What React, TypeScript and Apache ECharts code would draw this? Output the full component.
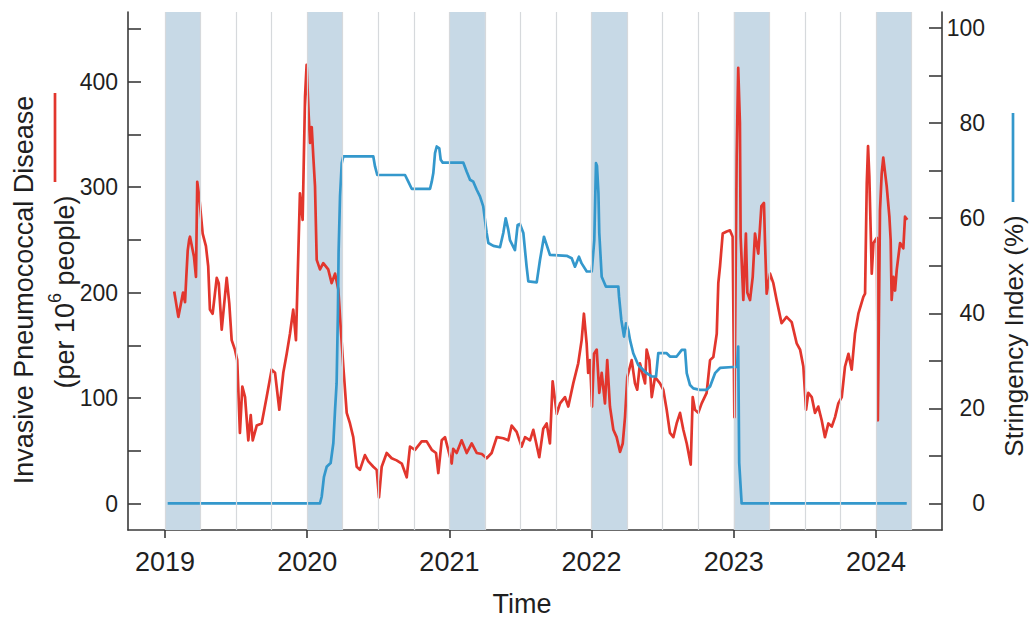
import React, { useEffect, useRef } from 'react';
import * as echarts from 'echarts';

// ---------- data ----------
const yearTicks = [2019, 2020, 2021, 2022, 2023, 2024];
const leftTicks = [0, 50, 100, 150, 200, 250, 300, 350, 400, 450];
const leftLabels = [0, 100, 200, 300, 400];
const rightTicks = [0, 10, 20, 30, 40, 50, 60, 70, 80, 90, 100];
const rightLabels = [0, 20, 40, 60, 80, 100];

// Jan–Mar shaded periods
const bandStart = [2019, 2020, 2021, 2022, 2023, 2024];
const bandEnd = [2019.25, 2020.25, 2021.25, 2022.25, 2023.25, 2024.25];

// quarterly vertical grid lines
const quarterLines = [
  2019, 2019.25, 2019.5, 2019.75, 2020, 2020.25, 2020.5, 2020.75,
  2021, 2021.25, 2021.5, 2021.75, 2022, 2022.25, 2022.5, 2022.75,
  2023, 2023.25, 2023.5, 2023.75, 2024, 2024.25,
];

// Invasive Pneumococcal Disease (per 10^6 people)
const ipdTime = [
  2019.065, 2019.094, 2019.117, 2019.127, 2019.141, 2019.150, 2019.160, 2019.170, 2019.176, 2019.204,
  2019.218, 2019.227, 2019.241, 2019.265, 2019.288, 2019.304, 2019.316, 2019.335, 2019.364, 2019.378,
  2019.399, 2019.434, 2019.452, 2019.469, 2019.492, 2019.508, 2019.527, 2019.544, 2019.563, 2019.586,
  2019.603, 2019.617, 2019.645, 2019.680, 2019.715, 2019.750, 2019.774, 2019.804, 2019.832, 2019.856,
  2019.879, 2019.902, 2019.921, 2019.930, 2019.949, 2019.968, 2019.985, 2019.996, 2020.011, 2020.020,
  2020.032, 2020.043, 2020.055, 2020.067, 2020.090, 2020.113, 2020.148, 2020.172, 2020.196, 2020.219,
  2020.231, 2020.254, 2020.278, 2020.301, 2020.324, 2020.348, 2020.371, 2020.406, 2020.430, 2020.465,
  2020.489, 2020.505, 2020.524, 2020.559, 2020.594, 2020.629, 2020.665, 2020.700, 2020.723, 2020.758,
  2020.805, 2020.840, 2020.876, 2020.906, 2020.922, 2020.946, 2020.969, 2020.992, 2021.016, 2021.027,
  2021.051, 2021.086, 2021.122, 2021.157, 2021.192, 2021.228, 2021.262, 2021.297, 2021.333, 2021.379,
  2021.414, 2021.438, 2021.473, 2021.508, 2021.532, 2021.567, 2021.590, 2021.632, 2021.660, 2021.684,
  2021.707, 2021.726, 2021.755, 2021.778, 2021.813, 2021.836, 2021.871, 2021.906, 2021.930, 2021.946,
  2021.965, 2021.976, 2021.989, 2022.003, 2022.017, 2022.036, 2022.054, 2022.071, 2022.094, 2022.110,
  2022.129, 2022.153, 2022.176, 2022.200, 2022.219, 2022.235, 2022.251, 2022.282, 2022.305, 2022.321,
  2022.340, 2022.376, 2022.387, 2022.406, 2022.423, 2022.446, 2022.481, 2022.504, 2022.528, 2022.551,
  2022.575, 2022.598, 2022.622, 2022.645, 2022.669, 2022.697, 2022.711, 2022.727, 2022.750, 2022.774,
  2022.809, 2022.833, 2022.856, 2022.880, 2022.891, 2022.903, 2022.922, 2022.950, 2022.973, 2022.992,
  2023.004, 2023.020, 2023.031, 2023.043, 2023.048, 2023.067, 2023.085, 2023.095, 2023.114, 2023.133,
  2023.149, 2023.172, 2023.194, 2023.212, 2023.219, 2023.231, 2023.255, 2023.278, 2023.301, 2023.336,
  2023.371, 2023.407, 2023.442, 2023.466, 2023.489, 2023.508, 2023.524, 2023.548, 2023.571, 2023.594,
  2023.618, 2023.641, 2023.665, 2023.689, 2023.712, 2023.735, 2023.759, 2023.782, 2023.806, 2023.829,
  2023.852, 2023.876, 2023.911, 2023.923, 2023.935, 2023.944, 2023.953, 2023.963, 2023.970, 2023.982,
  2024.006, 2024.013, 2024.028, 2024.040, 2024.051, 2024.075, 2024.094, 2024.103, 2024.110, 2024.122,
  2024.134, 2024.146, 2024.169, 2024.192, 2024.204, 2024.220,
];
const ipdValue = [
  201, 177, 193, 200, 191, 215, 240, 250, 253, 234,
  215, 305, 291, 256, 244, 225, 184, 180, 214, 209,
  165, 214, 190, 155, 146, 136, 67, 111, 101, 60,
  84, 60, 74, 76, 101, 127, 124, 89, 124, 142,
  161, 184, 155, 199, 294, 269, 386, 416, 367, 342,
  357, 329, 301, 231, 222, 228, 222, 209, 218, 203,
  177, 130, 86, 76, 63, 35, 32, 46, 40, 35,
  32, 6, 35, 48, 43, 41, 38, 25, 54, 51,
  59, 59, 51, 48, 29, 60, 63, 51, 38, 52,
  48, 60, 48, 57, 48, 47, 43, 48, 63, 62,
  60, 74, 68, 54, 63, 60, 70, 44, 71, 76,
  57, 116, 85, 95, 101, 92, 114, 133, 155, 180,
  152, 124, 136, 92, 142, 146, 105, 124, 95, 136,
  92, 70, 63, 49, 57, 82, 120, 136, 114, 108,
  133, 114, 146, 136, 101, 120, 114, 108, 89, 67,
  63, 76, 86, 70, 57, 37, 101, 89, 86, 95,
  105, 136, 139, 161, 209, 225, 256, 258, 259, 253,
  82, 329, 413, 361, 253, 193, 256, 200, 193, 215,
  256, 237, 282, 285, 250, 199, 218, 209, 193, 171,
  177, 172, 152, 146, 130, 89, 105, 101, 86, 92,
  79, 63, 76, 73, 82, 95, 101, 130, 142, 127,
  161, 180, 196, 199, 304, 339, 310, 256, 218, 247,
  252, 79, 278, 313, 328, 301, 272, 250, 193, 215,
  202, 222, 247, 242, 272, 269,
];

// Stringency Index (%)
const siTime = [
  2019.019, 2020.090, 2020.102, 2020.118, 2020.137, 2020.165, 2020.184, 2020.196, 2020.207, 2020.216,
  2020.221, 2020.231, 2020.243, 2020.254, 2020.465, 2020.477, 2020.493, 2020.688, 2020.711, 2020.735,
  2020.864, 2020.876, 2020.887, 2020.899, 2020.911, 2020.929, 2020.939, 2020.953, 2021.098, 2021.122,
  2021.145, 2021.168, 2021.192, 2021.215, 2021.238, 2021.250, 2021.262, 2021.274, 2021.309, 2021.356,
  2021.379, 2021.396, 2021.414, 2021.426, 2021.461, 2021.480, 2021.496, 2021.520, 2021.543, 2021.555,
  2021.614, 2021.637, 2021.665, 2021.684, 2021.707, 2021.825, 2021.860, 2021.883, 2021.911, 2021.930,
  2021.966, 2022.001, 2022.019, 2022.031, 2022.038, 2022.048, 2022.054, 2022.071, 2022.101, 2022.188,
  2022.193, 2022.209, 2022.228, 2022.242, 2022.258, 2022.270, 2022.293, 2022.328, 2022.387, 2022.423,
  2022.453, 2022.469, 2022.528, 2022.551, 2022.598, 2022.634, 2022.657, 2022.669, 2022.692, 2022.715,
  2022.762, 2022.809, 2022.833, 2022.868, 2022.903, 2022.994, 2023.023, 2023.031, 2023.038, 2023.055,
  2024.216,
];
const siValue = [
  0, 0, 1.4, 5.6, 7.7, 8.5, 12.7, 19.7, 25.3, 40,
  53, 64.6, 71.6, 73, 73, 70.9, 69.1, 69.1, 67.7, 66.2,
  66.2, 67.7, 69.5, 73.7, 75.1, 74.7, 72.3, 71.7, 71.7, 69.8,
  68.1, 67.7, 66, 64.6, 62.5, 59.7, 56.9, 54.8, 54.2, 53.9,
  56.9, 60, 57.6, 55.4, 53.3, 58.6, 58.8, 56.9, 49.8, 46.7,
  46.5, 51.2, 56.1, 54.4, 52.3, 52.1, 51.6, 49.8, 51.9, 50.5,
  48.8, 48.8, 55.4, 71.6, 71, 65.3, 56.9, 47.7, 45.6, 45.6,
  43.5, 38.6, 35.1, 37.9, 36.5, 34.4, 31.6, 29.1, 27.4, 26.7,
  26.7, 31.6, 31.6, 30.9, 30.9, 32.3, 32.3, 27.4, 24.9, 24.2,
  23.9, 23.9, 24.6, 27.4, 28.5, 28.7, 28.7, 33, 8.5, 0,
  0,
];

const RED = '#e2362d';
const BLUE = '#3498cc';
const AXIS = '#3a3a3a';
const TXT = '#1f1f1f';
const FONT = '"Liberation Sans", Arial, sans-serif';

export default function App() {
  const ref = useRef<HTMLDivElement>(null);

  useEffect(() => {
    if (!ref.current) return;
    const chart = echarts.init(ref.current, undefined, { renderer: 'svg' });

    const ipdData = ipdTime.map((t, i) => [t, ipdValue[i]]);
    const siData = siTime.map((t, i) => [t, siValue[i]]);

    const option: any = {
      animation: false,
      backgroundColor: '#ffffff',
      grid: { left: 128, right: 88, top: 12, bottom: 88, containLabel: false },
      xAxis: {
        type: 'value',
        min: 2018.74,
        max: 2024.464,
        axisLine: { show: true, onZero: false, lineStyle: { color: AXIS, width: 1.6 } },
        axisTick: { show: true, customValues: yearTicks, length: 8, inside: false, lineStyle: { color: AXIS, width: 1.6 } },
        axisLabel: {
          customValues: yearTicks,
          fontSize: 27,
          color: TXT,
          fontFamily: FONT,
          margin: 18,
          formatter: (v: number) => String(v),
        },
        splitLine: { show: false },
      },
      yAxis: [
        {
          type: 'value',
          position: 'left',
          min: -25,
          max: 466,
          axisLine: { show: true, onZero: false, lineStyle: { color: AXIS, width: 1.6 } },
          axisTick: { show: true, inside: true, length: 13, customValues: leftTicks, lineStyle: { color: AXIS, width: 1.6 } },
          axisLabel: { customValues: leftLabels, fontSize: 23, color: TXT, fontFamily: FONT, margin: 10 },
          splitLine: { show: false },
        },
        {
          type: 'value',
          position: 'right',
          min: -5.6,
          max: 103.4,
          axisLine: { show: true, onZero: false, lineStyle: { color: AXIS, width: 1.6 } },
          axisTick: { show: true, inside: true, length: 13, customValues: rightTicks, lineStyle: { color: AXIS, width: 1.6 } },
          axisLabel: { customValues: rightLabels, fontSize: 23, color: TXT, fontFamily: FONT, margin: 43, align: 'right' },
          splitLine: { show: false },
        },
      ],
      series: [
        {
          name: 'bands',
          type: 'line',
          data: [],
          z: 1,
          silent: true,
          markArea: {
            silent: true,
            itemStyle: { color: '#c7d9e6', opacity: 1 },
            data: bandStart.map((s, i) => [{ xAxis: s }, { xAxis: bandEnd[i] }]),
          },
          markLine: {
            silent: true,
            symbol: ['none', 'none'],
            label: { show: false },
            lineStyle: { color: '#d6d9dc', width: 1.2, type: 'solid' },
            data: quarterLines.map((q) => ({ xAxis: q })),
          },
        },
        {
          name: 'IPD',
          type: 'line',
          yAxisIndex: 0,
          data: ipdData,
          showSymbol: false,
          symbol: 'none',
          z: 3,
          lineStyle: { color: RED, width: 2.7, join: 'round' },
        },
        {
          name: 'Stringency',
          type: 'line',
          yAxisIndex: 1,
          data: siData,
          showSymbol: false,
          symbol: 'none',
          z: 4,
          lineStyle: { color: BLUE, width: 2.7, join: 'round' },
        },
      ],
      graphic: [
        {
          type: 'text',
          x: 24,
          y: 290,
          rotation: Math.PI / 2,
          style: {
            text: 'Invasive Pneumococcal Disease',
            font: `27px ${FONT}`,
            fill: TXT,
            align: 'center',
            verticalAlign: 'middle',
          },
        },
        {
          type: 'text',
          x: 62,
          y: 292,
          rotation: Math.PI / 2,
          style: {
            text: '{n|(per 10}{s|6}{n| people)}',
            fill: TXT,
            align: 'center',
            verticalAlign: 'middle',
            rich: {
              n: { fontSize: 27, fontFamily: FONT, lineHeight: 33, verticalAlign: 'bottom', fill: TXT },
              s: { fontSize: 18, fontFamily: FONT, lineHeight: 18, verticalAlign: 'top', fill: TXT },
            },
          },
        },
        {
          type: 'line',
          shape: { x1: 55, y1: 93, x2: 55, y2: 182 },
          style: { stroke: RED, lineWidth: 2.7 },
        },
        {
          type: 'text',
          x: 1014,
          y: 336,
          rotation: Math.PI / 2,
          style: {
            text: 'Stringency Index (%)',
            font: `26px ${FONT}`,
            fill: TXT,
            align: 'center',
            verticalAlign: 'middle',
          },
        },
        {
          type: 'line',
          shape: { x1: 1013, y1: 113, x2: 1013, y2: 202 },
          style: { stroke: BLUE, lineWidth: 2.7 },
        },
        {
          type: 'text',
          x: 522,
          y: 604,
          style: {
            text: 'Time',
            font: `27px ${FONT}`,
            fill: TXT,
            align: 'center',
            verticalAlign: 'middle',
          },
        },
      ],
    };

    chart.setOption(option);
    return () => chart.dispose();
  }, []);

  return (
    <div
      ref={ref}
      style={{ position: 'fixed', left: 0, top: 0, width: 1030, height: 618 }}
    />
  );
}
